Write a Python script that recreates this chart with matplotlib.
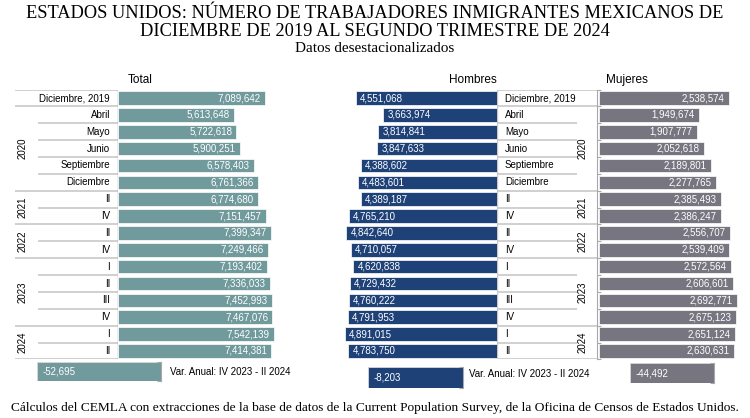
import matplotlib
matplotlib.use("Agg")
import matplotlib.pyplot as plt

# ---- data ----
row_labels = ["Diciembre, 2019", "Abril", "Mayo", "Junio", "Septiembre", "Diciembre",
              "II", "IV", "II", "IV", "I", "II", "III", "IV", "I", "II"]
years = ["2020", "2021", "2022", "2023", "2024"]
year_rows = [(1, 5), (6, 7), (8, 9), (10, 13), (14, 15)]

total = [7089642, 5613648, 5722618, 5900251, 6578403, 6761366, 6774680, 7151457,
         7399347, 7249466, 7193402, 7336033, 7452993, 7467076, 7542139, 7414381]
hombres = [4551068, 3663974, 3814841, 3847633, 4388602, 4483601, 4389187, 4765210,
           4842640, 4710057, 4620838, 4729432, 4760222, 4791953, 4891015, 4783750]
mujeres = [2538574, 1949674, 1907777, 2052618, 2189801, 2277765, 2385493, 2386247,
           2556707, 2539409, 2572564, 2606601, 2692771, 2675123, 2651124, 2630631]

var_total = -52695
var_hombres = -8203
var_mujeres = -44492
var_label = "Var. Anual: IV 2023 - II 2024"

C_TOTAL = "#709a9c"
C_HOMBRES = "#1e4178"
C_MUJERES = "#767580"
LINE = "#c8c8c8"
SANS = "Liberation Sans"
SERIF = "Liberation Serif"

W, H = 750, 418
fig = plt.figure(figsize=(W / 100, H / 100), dpi=100)


def px_axes(x0, y0, x1, y1):
    return fig.add_axes([x0 / W, 1 - y1 / H, (x1 - x0) / W, (y1 - y0) / H])


n = len(row_labels)
rows = list(range(n))
Y0, Y1 = 89.6, 359.4
group_edges = [-0.5, 0.5] + [b + 0.5 for a, b in year_rows]
inner_edges = [i + 0.5 for i in range(n - 1) if (i + 0.5) not in group_edges]


def fmt(v):
    return f"{v:,}"


def clean(ax):
    for s in ax.spines.values():
        s.set_visible(False)
    ax.set_xticks([])
    ax.set_yticks([])
    ax.patch.set_alpha(0)


# ---- Total ----
ax_t = px_axes(118, Y0, 282, Y1)
ax_t.barh(rows, total, height=0.8, color=C_TOTAL, edgecolor="white", linewidth=0.5)
ax_t.set_xlim(0, 7.93e6)
ax_t.set_ylim(n - 0.5, -0.5)
clean(ax_t)
for i, v in enumerate(total):
    ax_t.annotate(fmt(v), (v, i), xytext=(-3, 0), textcoords="offset points",
                  ha="right", va="center", color="white", fontsize=7, family=SANS)

ax_tl = px_axes(15, Y0, 118, Y1)
ax_tl.set_xlim(0, 1)
ax_tl.set_ylim(n - 0.5, -0.5)
clean(ax_tl)
ax_tl.hlines(group_edges, 0, 1, color=LINE, lw=1.2)
ax_tl.hlines(inner_edges, 0.223, 1, color=LINE, lw=1.2)
ax_tl.axvline(1, color="#a8a8a8", lw=1)
for i, lab in enumerate(row_labels):
    ax_tl.text(0.922, i, lab, ha="right", va="center", fontsize=7, family=SANS)
for yr, (a, b) in zip(years, year_rows):
    ax_tl.text(0.07, (a + b) / 2, yr, rotation=90, ha="center", va="center",
               fontsize=7, family=SANS)

# ---- Hombres ----
ax_h = px_axes(340, Y0, 497, Y1)
ax_h.barh(rows, hombres, height=0.8, color=C_HOMBRES, edgecolor="white", linewidth=0.5)
ax_h.set_xlim(5.05e6, 0)
ax_h.set_ylim(n - 0.5, -0.5)
clean(ax_h)
for i, v in enumerate(hombres):
    ax_h.annotate(fmt(v), (v, i), xytext=(3, 0), textcoords="offset points",
                  ha="left", va="center", color="white", fontsize=7, family=SANS)

# ---- shared label table ----
ax_hl = px_axes(497, Y0, 597, Y1)
ax_hl.set_xlim(0, 1)
ax_hl.set_ylim(n - 0.5, -0.5)
clean(ax_hl)
ax_hl.hlines(group_edges, 0, 1, color=LINE, lw=1.2)
ax_hl.hlines(inner_edges, 0, 0.8, color=LINE, lw=1.2)
ax_hl.axvline(0, color=LINE, lw=1)
for i, lab in enumerate(row_labels):
    ax_hl.text(0.08, i, lab, ha="left", va="center", fontsize=7, family=SANS)
for yr, (a, b) in zip(years, year_rows):
    ax_hl.text(0.86, (a + b) / 2, yr, rotation=90, ha="center", va="center",
               fontsize=7, family=SANS)

# ---- Mujeres ----
ax_m = px_axes(597, Y0, 745, Y1)
ax_m.barh(rows, mujeres, height=0.8, color=C_MUJERES, edgecolor="white", linewidth=0.5)
ax_m.set_xlim(-0.03e6, 2.849e6)
ax_m.set_ylim(n - 0.5, -0.5)
for s in ["top", "right", "bottom"]:
    ax_m.spines[s].set_visible(False)
ax_m.spines["left"].set_color("#a8a8a8")
ax_m.set_xticks([])
ax_m.set_yticks([e for e in group_edges + inner_edges])
ax_m.set_yticklabels([])
ax_m.tick_params(axis="y", direction="in", length=3, color="#a8a8a8")
ax_m.patch.set_alpha(0)
for i, v in enumerate(mujeres):
    ax_m.annotate(fmt(v), (v, i), xytext=(-3, 0), textcoords="offset points",
                  ha="right", va="center", color="white", fontsize=7, family=SANS)

# ---- panel titles ----
fig.text(140 / W, 1 - 80 / H, "Total", ha="center", va="center", fontsize=8.5, family=SANS)
fig.text(473 / W, 1 - 80 / H, "Hombres", ha="center", va="center", fontsize=8.5, family=SANS)
fig.text(627 / W, 1 - 80 / H, "Mujeres", ha="center", va="center", fontsize=8.5, family=SANS)


# ---- annual variation boxes ----
def var_box(x0, y0, x1, y1, value, color):
    ax = px_axes(x0, y0, x1, y1)
    ax.barh([0], [value], height=1.0, color=color, edgecolor="#d8d8d8", linewidth=0.6)
    ax.set_xlim(value, 0)
    ax.set_ylim(-0.5, 0.5)
    for s in ["top", "left", "bottom"]:
        ax.spines[s].set_visible(False)
    ax.spines["right"].set_color("#a8a8a8")
    ax.yaxis.tick_right()
    ax.set_yticks([-0.5, 0.5])
    ax.set_yticklabels([])
    ax.tick_params(axis="y", direction="in", length=3, color="#a8a8a8")
    ax.set_xticks([])
    ax.annotate(fmt(value), (value, 0), xytext=(4, 0), textcoords="offset points",
                ha="left", va="center", color="white", fontsize=7, family=SANS)
    return ax


var_box(37, 362, 161, 381, var_total, C_TOTAL)
var_box(368, 367, 463, 388, var_hombres, C_HOMBRES)
var_box(630, 363, 714, 383, var_mujeres, C_MUJERES)
fig.text(170 / W, 1 - 372 / H, var_label, ha="left", va="center", fontsize=7, family=SANS)
fig.text(469 / W, 1 - 374 / H, var_label, ha="left", va="center", fontsize=7, family=SANS)

# ---- titles and source ----
fig.text(0.5, 1 - 13 / H, "ESTADOS UNIDOS: NÚMERO DE TRABAJADORES INMIGRANTES MEXICANOS DE",
         ha="center", va="center", fontsize=13.2, family=SERIF)
fig.text(0.5, 1 - 31 / H, "DICIEMBRE DE 2019 AL SEGUNDO TRIMESTRE DE 2024",
         ha="center", va="center", fontsize=13.2, family=SERIF)
fig.text(0.5, 1 - 49 / H, "Datos desestacionalizados", ha="center", va="center",
         fontsize=11, family=SERIF)
fig.text(0.5, 1 - 408 / H,
         "Cálculos del CEMLA con extracciones de la base de datos de la Current Population "
         "Survey, de la Oficina de Censos de Estados Unidos.",
         ha="center", va="center", fontsize=9.6, family=SERIF)

fig.savefig("out.png", dpi=100)
